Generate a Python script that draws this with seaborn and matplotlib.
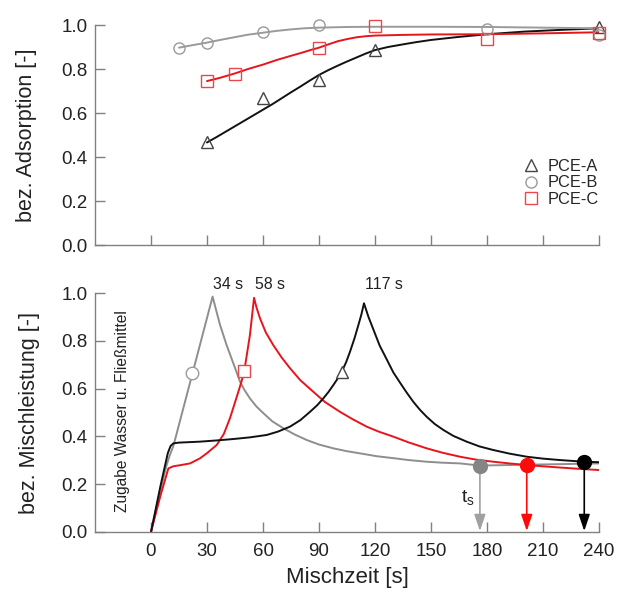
import matplotlib
import matplotlib.pyplot as plt
import seaborn as sns
from matplotlib.lines import Line2D

sns.set_theme(style="ticks")
plt.rcParams["font.family"] = ["Liberation Sans", "DejaVu Sans"]

# ── Data: normalised adsorption (top panel) ───────────────────────────
ads_time_a = [30, 60, 90, 120, 240]
ads_a = [0.466, 0.667, 0.75, 0.886, 0.99]
ads_time_b = [15, 30, 60, 90, 180, 240]
ads_b = [0.897, 0.92, 0.967, 1.0, 0.98, 0.955]
ads_time_c = [30, 45, 90, 120, 180, 240]
ads_c = [0.745, 0.777, 0.894, 0.995, 0.936, 0.962]

fit_time_a = [30, 35, 40, 45, 50, 55, 60, 65, 70, 75, 80, 85, 90, 95, 100, 105, 110,
              115, 120, 127, 135, 142, 150, 165, 180, 200, 220, 240]
fit_a = [0.466, 0.49, 0.515, 0.54, 0.565, 0.59, 0.615, 0.64, 0.667, 0.694, 0.72, 0.747,
         0.773, 0.795, 0.815, 0.834, 0.852, 0.87, 0.886, 0.9, 0.912, 0.922, 0.932, 0.946,
         0.958, 0.97, 0.978, 0.985]
fit_time_b = [15, 22, 30, 37, 45, 52, 60, 67, 75, 82, 90, 105, 120, 150, 180, 210, 240]
fit_b = [0.897, 0.908, 0.92, 0.932, 0.945, 0.956, 0.965, 0.973, 0.98, 0.985, 0.988,
         0.991, 0.992, 0.992, 0.991, 0.988, 0.985]
fit_time_c = [30, 37, 45, 52, 60, 67, 75, 80, 85, 90, 95, 100, 105, 110, 115, 120, 135,
              150, 180, 210, 240]
fit_c = [0.745, 0.76, 0.78, 0.8, 0.82, 0.84, 0.86, 0.872, 0.885, 0.897, 0.912, 0.926,
         0.936, 0.944, 0.949, 0.952, 0.955, 0.957, 0.958, 0.962, 0.967]

# ── Data: normalised mixing power (bottom panel) ──────────────────────
mix_time_a = [0, 5, 9, 10.5, 12, 15, 26.2, 35, 44.1, 53, 62, 68, 74.5, 80, 85.2, 89,
              92.3, 95, 97.7, 100, 102.2, 104.5, 106.6, 109, 111.1, 112.7, 114.1, 116.5,
              119.1, 122.5, 126.3, 129.8, 133.4, 137, 140.5, 144, 147.7, 152, 156.6, 162,
              169.1, 176, 183.4, 192, 201.3, 210, 219.1, 232.1, 240.5]
mix_a = [0, 0.19, 0.33, 0.36, 0.371, 0.374, 0.378, 0.383, 0.389, 0.396, 0.406, 0.42,
         0.441, 0.468, 0.503, 0.53, 0.559, 0.585, 0.615, 0.642, 0.671, 0.71, 0.754, 0.81,
         0.866, 0.91, 0.957, 0.9, 0.848, 0.78, 0.722, 0.668, 0.625, 0.583, 0.545, 0.512,
         0.482, 0.452, 0.427, 0.402, 0.378, 0.358, 0.343, 0.328, 0.315, 0.307, 0.301,
         0.294, 0.292]
mix_time_b = [0, 4, 8, 10, 12, 22.1, 33, 35, 37, 40.5, 44.1, 47.7, 50, 53, 56.5, 60.2,
              65, 70.9, 77, 83.4, 90, 97.7, 105, 112, 121, 129.8, 138, 147.7, 156, 165.5,
              176.2, 190, 205, 220, 240.5]
mix_b = [0, 0.14, 0.27, 0.32, 0.36, 0.66, 0.985, 0.925, 0.866, 0.782, 0.706, 0.629,
         0.595, 0.559, 0.525, 0.497, 0.463, 0.434, 0.408, 0.385, 0.366, 0.35, 0.338,
         0.329, 0.317, 0.309, 0.301, 0.294, 0.29, 0.287, 0.278, 0.28, 0.282, 0.284, 0.287]
mix_time_c = [0, 5, 9.3, 12, 16, 20.9, 26.2, 30, 35.2, 39, 42.3, 44.5, 46.8, 48.5, 50,
              53, 55.2, 56.5, 58.4, 61.5, 65.5, 70, 74.5, 80, 86.9, 93, 101.2, 108, 115.5,
              122, 129.8, 138, 147.7, 156, 165.5, 174, 183.4, 192, 201.3, 215, 228, 240.5]
mix_c = [0, 0.15, 0.266, 0.275, 0.28, 0.287, 0.308, 0.33, 0.364, 0.41, 0.476, 0.53,
         0.587, 0.63, 0.675, 0.824, 0.98, 0.94, 0.894, 0.835, 0.782, 0.73, 0.685, 0.635,
         0.587, 0.545, 0.503, 0.472, 0.441, 0.42, 0.399, 0.375, 0.35, 0.332, 0.315,
         0.303, 0.294, 0.287, 0.28, 0.272, 0.265, 0.259]

peak_time = [33, 55.5, 114.6]
peak_labels = ["34 s", "58 s", "117 s"]
marker_time = [102.2, 22.1, 50]
marker_val = [0.671, 0.665, 0.675]
ts_time = [232.1, 176.2, 201.3]
ts_val = [0.294, 0.278, 0.28]

names = ["PCE-A", "PCE-B", "PCE-C"]
markers = ["^", "o", "s"]
line_colors = ["#111111", "#8e8e8e", "#e8141c"]
top_line_colors = ["#111111", "#9a9a9a", "#e8141c"]
edge_colors = ["#444444", "#9a9a9a", "#e8474c"]
dot_colors = ["#000000", "#858585", "#ff0a0a"]

AX_GRAY = "#808080"
W, H = 625, 592

fig = plt.figure(figsize=(W / 100, H / 100), dpi=100)
ax_top = fig.add_axes([95 / W, 1 - 245 / H, 504 / W, 220 / H])
ax_bot = fig.add_axes([95 / W, 1 - 532 / H, 504 / W, 239 / H])


def style_axis(ax):
    sns.despine(ax=ax)
    for side in ["left", "bottom"]:
        ax.spines[side].set_color(AX_GRAY)
        ax.spines[side].set_linewidth(1.0)
    ax.set_xlim(-30, 240)
    ax.set_ylim(0, 1.0)
    ax.set_xticks(range(0, 241, 30))
    ax.set_yticks([0, 0.2, 0.4, 0.6, 0.8, 1.0])
    ax.set_yticklabels(["0.0", "0.2", "0.4", "0.6", "0.8", "1.0"])
    ax.tick_params(direction="in", length=7, width=1.0, color=AX_GRAY,
                   labelsize=13.5, labelcolor="#222222")
    ax.tick_params(axis="y", pad=5.5)
    ax.tick_params(axis="x", pad=8)


# ── Top: adsorption ───────────────────────────────────────────────────
fits = [(fit_time_a, fit_a), (fit_time_b, fit_b), (fit_time_c, fit_c)]
points = [(ads_time_a, ads_a), (ads_time_b, ads_b), (ads_time_c, ads_c)]
for i in range(3):
    sns.lineplot(x=fits[i][0], y=fits[i][1], ax=ax_top, color=top_line_colors[i],
                 lw=1.4, sort=False, estimator=None)
    ax_top.plot(points[i][0], points[i][1], ls="none", marker=markers[i], ms=8,
                mfc="none", mec=edge_colors[i], mew=1.0, clip_on=False, zorder=5)

style_axis(ax_top)
ax_top.set_xticklabels([])
ax_top.set_ylabel("bez. Adsorption [-]", fontsize=15.5, color="#222222")
ax_top.yaxis.set_label_coords(-0.115, 0.5)

handles = [Line2D([], [], ls="none", marker=markers[i], ms=8, mfc="none",
                  mec=edge_colors[i], mew=1.0) for i in range(3)]
ax_top.legend(handles, names, loc="center left", bbox_to_anchor=(0.849, 0.282),
              frameon=False, fontsize=11.8, handlelength=1.0, handletextpad=0.5,
              labelspacing=0.08, borderpad=0, borderaxespad=0)

# ── Bottom: mixing power ──────────────────────────────────────────────
curves = [(mix_time_a, mix_a), (mix_time_b, mix_b), (mix_time_c, mix_c)]
for i in [1, 2, 0]:
    sns.lineplot(x=curves[i][0], y=curves[i][1], ax=ax_bot, color=line_colors[i],
                 lw=1.4, sort=False, estimator=None)

for i in range(3):
    ax_bot.plot(marker_time[i], marker_val[i], ls="none", marker=markers[i], ms=9,
                mfc="white", mec=edge_colors[i], mew=1.0, zorder=6)
    ax_bot.annotate("", xy=(ts_time[i], 0.004), xytext=(ts_time[i], ts_val[i]),
                    arrowprops=dict(arrowstyle="-|>,head_length=0.5,head_width=0.17",
                                    color=dot_colors[i] if i != 1 else "#a0a0a0",
                                    lw=1.2, shrinkA=0, shrinkB=0, mutation_scale=20),
                    zorder=4)
    ax_bot.plot(ts_time[i], ts_val[i], ls="none", marker="o", ms=10,
                color=dot_colors[i], zorder=7)
    ax_bot.text(peak_time[i], 1.035, peak_labels[i], ha="left", va="center",
                fontsize=11.4, color="#222222", clip_on=False)

ax_bot.text(169.8, 0.146, r"$\mathregular{t_s}$", ha="center", va="center",
            fontsize=14, color="#222222")
ax_bot.text(-15, 0.508, "Zugabe Wasser u. Fließmittel", rotation=90,
            ha="center", va="center", fontsize=11.2, color="#222222")

style_axis(ax_bot)
ax_bot.set_ylabel("bez. Mischleistung [-]", fontsize=15.5, color="#222222")
ax_bot.yaxis.set_label_coords(-0.11, 0.5)
ax_bot.set_xlabel("Mischzeit [s]", fontsize=16, color="#222222")
ax_bot.xaxis.set_label_coords(0.5, -0.148)

fig.savefig("out.png", dpi=100)
plt.close(fig)
